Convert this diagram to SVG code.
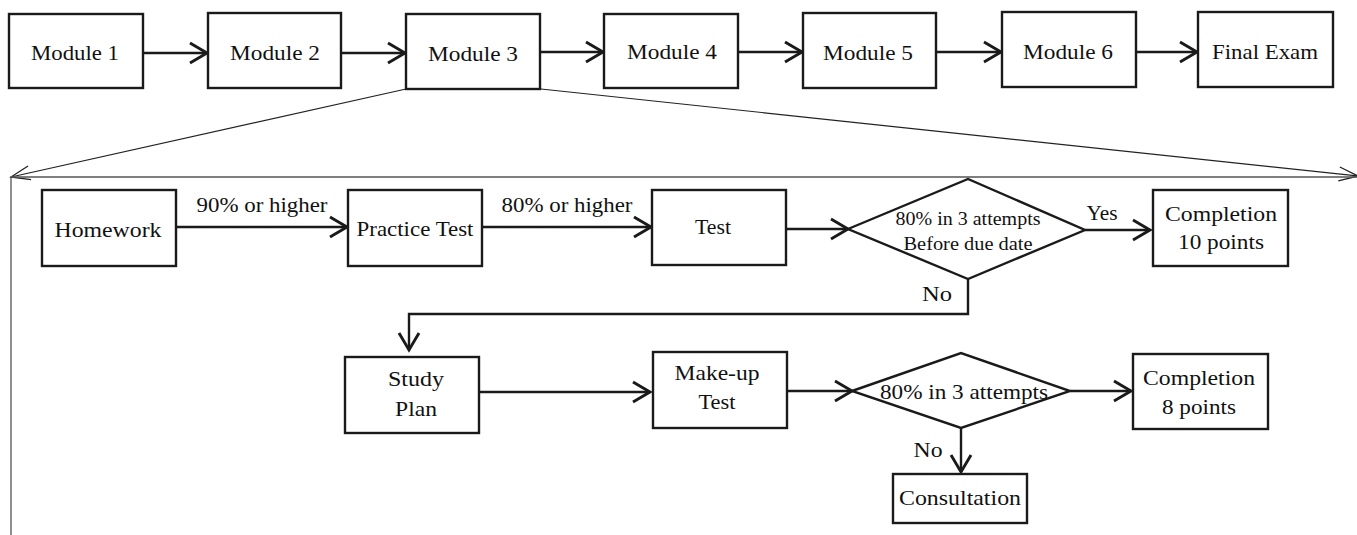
<svg xmlns="http://www.w3.org/2000/svg" width="1357" height="535" viewBox="0 0 1357 535">
<style>
.box{fill:#fff;stroke:#1a1a1a;stroke-width:2.4}
.t{font-family:"Liberation Serif","Times New Roman",serif;font-size:22px;fill:#111;text-anchor:middle}
.s{font-size:18px}
.c{fill:none;stroke:#1a1a1a;stroke-width:2.4}
.thin{fill:none;stroke:#222;stroke-width:1.2}
.frame{fill:none;stroke:#555;stroke-width:1.3}
</style>
<defs>
<marker id="ah" markerUnits="userSpaceOnUse" orient="auto" refX="0" refY="0" markerWidth="40" markerHeight="40" overflow="visible">
<path d="M-17,-10 L0,0 L-17,10" fill="none" stroke="#1a1a1a" stroke-width="2.9" stroke-linejoin="miter"/>
</marker>
<marker id="ahThin" markerUnits="userSpaceOnUse" orient="auto" refX="0" refY="0" markerWidth="40" markerHeight="40" overflow="visible">
<path d="M-19,-7 L0,0 L-19,7" fill="none" stroke="#222" stroke-width="1.3"/>
</marker>
</defs>

<g id="connectors">
<line class="c" x1="143" y1="53" x2="207" y2="53" marker-end="url(#ah)"/>
<line class="c" x1="341" y1="53" x2="405" y2="53" marker-end="url(#ah)"/>
<line class="c" x1="540" y1="52" x2="603" y2="52" marker-end="url(#ah)"/>
<line class="c" x1="738" y1="52" x2="802" y2="52" marker-end="url(#ah)"/>
<line class="c" x1="936" y1="52" x2="1001" y2="52" marker-end="url(#ah)"/>
<line class="c" x1="1136" y1="52" x2="1197" y2="52" marker-end="url(#ah)"/>
<line class="thin" x1="406" y1="89" x2="11" y2="177" marker-end="url(#ahThin)"/>
<line class="thin" x1="541" y1="89" x2="1358" y2="176" marker-end="url(#ahThin)"/>
<polyline class="frame" points="11,535 11,177 1357,177"/>
<line class="c" x1="176" y1="227" x2="347" y2="227" marker-end="url(#ah)"/>
<line class="c" x1="482" y1="227" x2="651" y2="227" marker-end="url(#ah)"/>
<line class="c" x1="786" y1="229" x2="848" y2="229" marker-end="url(#ah)"/>
<line class="c" x1="1085" y1="230" x2="1150" y2="230" marker-end="url(#ah)"/>
<polyline class="c" points="968,279 968,314 409,314 409,350" marker-end="url(#ah)"/>
<line class="c" x1="479" y1="392" x2="650" y2="392" marker-end="url(#ah)"/>
<line class="c" x1="787" y1="391" x2="852" y2="391" marker-end="url(#ah)"/>
<line class="c" x1="1070" y1="391" x2="1131" y2="391" marker-end="url(#ah)"/>
<line class="c" x1="961" y1="428" x2="961" y2="472" marker-end="url(#ah)"/>
<text class="t" x="262" y="212" textLength="131" lengthAdjust="spacingAndGlyphs">90% or higher</text>
<text class="t" x="567" y="212" textLength="131" lengthAdjust="spacingAndGlyphs">80% or higher</text>
<text class="t" x="1102" y="220" textLength="31" lengthAdjust="spacingAndGlyphs">Yes</text>
<text class="t" x="937" y="301" textLength="30" lengthAdjust="spacingAndGlyphs">No</text>
<text class="t" x="928" y="457" textLength="29" lengthAdjust="spacingAndGlyphs">No</text>
</g>

<g id="module1"><rect class="box" x="9" y="14" width="134" height="74"/><text class="t" x="75" y="60" textLength="88" lengthAdjust="spacingAndGlyphs">Module 1</text></g>
<g id="module2"><rect class="box" x="208" y="13" width="133" height="75"/><text class="t" x="275" y="60" textLength="90" lengthAdjust="spacingAndGlyphs">Module 2</text></g>
<g id="module3"><rect class="box" x="406" y="14" width="134" height="75"/><text class="t" x="473" y="61" textLength="90" lengthAdjust="spacingAndGlyphs">Module 3</text></g>
<g id="module4"><rect class="box" x="604" y="14" width="134" height="74"/><text class="t" x="672" y="59" textLength="90" lengthAdjust="spacingAndGlyphs">Module 4</text></g>
<g id="module5"><rect class="box" x="803" y="13" width="133" height="75"/><text class="t" x="868" y="60" textLength="90" lengthAdjust="spacingAndGlyphs">Module 5</text></g>
<g id="module6"><rect class="box" x="1002" y="12" width="134" height="75"/><text class="t" x="1068" y="59" textLength="90" lengthAdjust="spacingAndGlyphs">Module 6</text></g>
<g id="finalExam"><rect class="box" x="1198" y="12" width="135" height="75"/><text class="t" x="1265" y="59" textLength="106" lengthAdjust="spacingAndGlyphs">Final Exam</text></g>

<g id="homework"><rect class="box" x="42" y="190" width="134" height="76"/><text class="t" x="108" y="237" textLength="107" lengthAdjust="spacingAndGlyphs">Homework</text></g>
<g id="practiceTest"><rect class="box" x="348" y="190" width="134" height="76"/><text class="t" x="415" y="236" textLength="117" lengthAdjust="spacingAndGlyphs">Practice Test</text></g>
<g id="test"><rect class="box" x="652" y="190" width="134" height="75"/><text class="t" x="713" y="234" textLength="36" lengthAdjust="spacingAndGlyphs">Test</text></g>
<g id="decision1"><polygon class="box" points="848,229 968,179 1085,230 968,279"/><text class="t s" x="968" y="225" textLength="145" lengthAdjust="spacingAndGlyphs">80% in 3 attempts</text><text class="t s" x="968" y="250" textLength="129" lengthAdjust="spacingAndGlyphs">Before due date</text></g>
<g id="completion10"><rect class="box" x="1153" y="190" width="135" height="76"/><text class="t" x="1221" y="221" textLength="112" lengthAdjust="spacingAndGlyphs">Completion</text><text class="t" x="1221" y="249" textLength="86" lengthAdjust="spacingAndGlyphs">10 points</text></g>

<g id="studyPlan"><rect class="box" x="345" y="357" width="134" height="76"/><text class="t" x="416" y="386" textLength="56" lengthAdjust="spacingAndGlyphs">Study</text><text class="t" x="416" y="416" textLength="42" lengthAdjust="spacingAndGlyphs">Plan</text></g>
<g id="makeupTest"><rect class="box" x="653" y="352" width="134" height="76"/><text class="t" x="717" y="380" textLength="85" lengthAdjust="spacingAndGlyphs">Make-up</text><text class="t" x="717" y="409" textLength="37" lengthAdjust="spacingAndGlyphs">Test</text></g>
<g id="decision2"><polygon class="box" points="852,391 961,353 1070,391 961,428"/><text class="t" x="964" y="399" textLength="168" lengthAdjust="spacingAndGlyphs">80% in 3 attempts</text></g>
<g id="completion8"><rect class="box" x="1133" y="354" width="135" height="75"/><text class="t" x="1199" y="385" textLength="112" lengthAdjust="spacingAndGlyphs">Completion</text><text class="t" x="1199" y="414" textLength="74" lengthAdjust="spacingAndGlyphs">8 points</text></g>
<g id="consultation"><rect class="box" x="893" y="474" width="134" height="49"/><text class="t" x="960" y="505" textLength="122" lengthAdjust="spacingAndGlyphs">Consultation</text></g>
</svg>
